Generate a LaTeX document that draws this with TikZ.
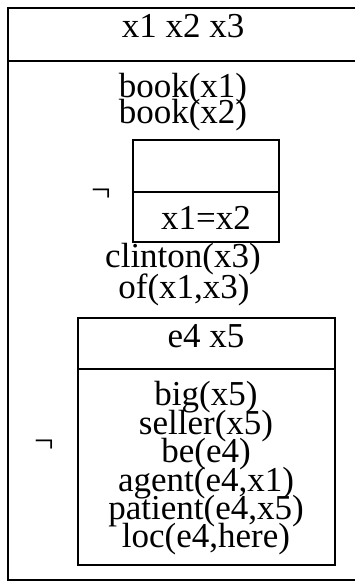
\documentclass[tikz,border=0pt]{standalone}
\usepackage{fontspec}
\setmainfont{Liberation Serif}
\begin{document}
\begin{tikzpicture}[x=1pt,y=-1pt,
  box/.style={line width=1.5pt, draw=black},
  lbl/.style={font=\fontsize{35}{35}\selectfont, inner sep=0pt, anchor=base},
  negsym/.style={font=\fontsize{35}{35}\selectfont, inner sep=0pt, anchor=base west}]
\useasboundingbox (0,0) rectangle (355,582);
\clip (0,0) rectangle (355,582);
% outer box
\draw[box] (8,8) rectangle (372,580);
\draw[box] (8,61) -- (372,61);
\node[lbl] (univ) at (183,37) {x1 x2 x3};
\node[lbl] (c1) at (183,97) {book(x1)};
\node[lbl] (c2) at (183,123) {book(x2)};
% negated box 1
\node[negsym] (neg1) at (91,201) {¬};
\draw[box] (133,140) rectangle (279,242);
\draw[box] (133,192) -- (279,192);
\node[lbl] (eq) at (206,229) {x1=x2};
\node[lbl] (c3) at (183,267) {clinton(x3)};
\node[lbl] (c4) at (184,298) {of(x1,x3)};
% negated box 2
\node[negsym] (neg2) at (34,452) {¬};
\draw[box] (78,318) rectangle (335,565);
\draw[box] (78,369) -- (335,369);
\node[lbl] (univ2) at (206,347) {e4 x5};
\node[lbl] (d1) at (206,405) {big(x5)};
\node[lbl] (d2) at (206,434) {seller(x5)};
\node[lbl] (d3) at (206,462) {be(e4)};
\node[lbl] (d4) at (206,491) {agent(e4,x1)};
\node[lbl] (d5) at (206,519) {patient(e4,x5)};
\node[lbl] (d6) at (206,547) {loc(e4,here)};
\end{tikzpicture}
\end{document}
